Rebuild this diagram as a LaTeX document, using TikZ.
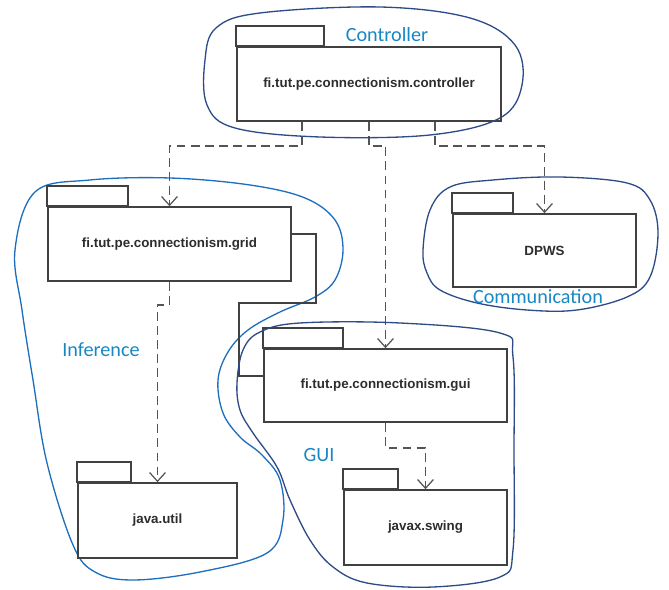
\documentclass[tikz,border=0pt]{standalone}
\usepackage{fontspec}
\setmainfont{Liberation Sans}
\newfontfamily\lblfont{Carlito}
\usetikzlibrary{arrows.meta}
\definecolor{pkggray}{RGB}{65,65,65}
\definecolor{txtgray}{RGB}{45,45,45}
\definecolor{blobdark}{RGB}{45,75,135}
\definecolor{blobbright}{RGB}{28,110,190}
\definecolor{lblblue}{RGB}{25,135,195}
\begin{document}
\begin{tikzpicture}[x=0.02cm,y=-0.02cm,line width=0.8pt,
  pkgline/.style={draw=pkggray,line width=0.9pt},
  pkg/.style={pkgline,fill=white,inner sep=0pt,text=txtgray,
    font=\fontsize{7.6}{9}\selectfont\bfseries},
  dep/.style={draw=pkggray!90,line width=0.85pt,dash pattern=on 5pt off 3pt,
    -{Straight Barb[length=5pt,width=9pt,line width=0.7pt]}},
  blob/.style={draw=blobdark,line width=0.75pt},
  grp/.style={text=lblblue,font=\lblfont\fontsize{11.5}{13}\selectfont}]
\useasboundingbox (0,0) rectangle (669,590);
\draw[blob,draw=blobbright] plot[smooth cycle,tension=0.6] coordinates {
  (15,250) (35,192) (90,180) (170,178) (250,185) (305,198) (335,220)
  (343,250) (335,280) (315,297) (280,312) (248,330) (228,352) (218,380)
  (223,413) (240,437) (262,455) (280,480) (283,520) (267,553) (200,572)
  (133,580) (95,572) (73,545) (47,463) (33,380) (22,310)};
\node[pkg,minimum width=5.28cm,minimum height=1.48cm] (ctrl) at (369,84) {fi.tut.pe.connectionism.controller};
\node[pkg,minimum width=4.86cm,minimum height=1.48cm] (grid) at (169.5,244) {fi.tut.pe.connectionism.grid};
\node[pkg,minimum width=4.86cm,minimum height=1.46cm] (gui) at (385.5,385.5) {fi.tut.pe.connectionism.gui};
\node[pkg,minimum width=3.66cm,minimum height=1.46cm] (dpws) at (544.5,250.5) {DPWS};
\node[pkg,minimum width=3.18cm,minimum height=1.5cm] (util) at (157.5,520.5) {java.util};
\node[pkg,minimum width=3.26cm,minimum height=1.5cm] (swing) at (425.5,527.5) {javax.swing};
\foreach \n/\w in {ctrl/88,grid/81,gui/80,dpws/61,util/54,swing/55}
  \draw[pkgline] (\n.north west) rectangle ++(\w,-20);
\coordinate (k1) at (316,303);
\coordinate (k2) at (239,376);
\draw[pkgline] (grid.east |- 0,234) -| (k1) -| (k2) -- (k2 -| gui.west);
\draw[dep] ([xshift=-1.34cm]ctrl.south) -- ++(0,24) -| (grid.north);
\draw[dep] (ctrl.south) -- ++(0,24) -| (gui.north);
\draw[dep] ([xshift=1.32cm]ctrl.south) -- ++(0,24) -| (dpws.north);
\draw[dep] (grid.south) -- ++(0,23) -| (util.north);
\draw[dep] (gui.south) -- ++(0,25) -| (swing.north);
\draw[blob] plot[smooth cycle,tension=0.6] coordinates {
  (205,60) (216,28) (260,13) (380,7) (470,18) (515,45) (522,85)
  (500,118) (430,135) (320,137) (235,128) (207,105)};
\draw[blob] plot[smooth cycle,tension=0.6] coordinates {
  (260,332) (300,323) (400,323) (500,333) (513,357) (514,450) (513,550)
  (500,577) (433,587) (367,583) (333,567) (310,540) (290,500) (277,467)
  (253,433) (240,410) (237,383) (243,350)};
\draw[blob] plot[smooth cycle,tension=0.6] coordinates {
  (423,250) (430,210) (450,187) (493,180) (560,177) (627,183) (650,200)
  (658,233) (650,277) (627,297) (577,310) (527,310) (477,303) (440,290)
  (427,273)};
\node[grp] (lctrl) at (387,35) {Controller};
\node[grp] (linf) at (101,350) {Inference};
\node[grp] (lgui) at (319,455) {GUI};
\node[grp] (lcom) at (538,297) {Communication};
\end{tikzpicture}
\end{document}
